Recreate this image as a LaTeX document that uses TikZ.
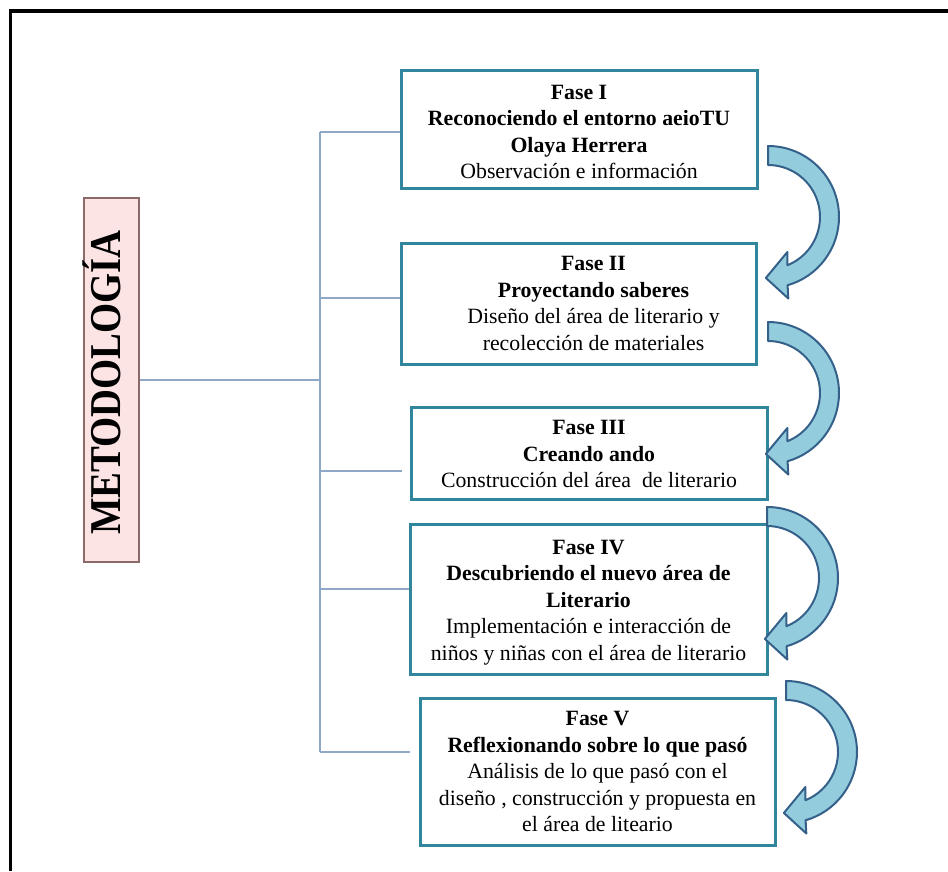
\documentclass[tikz,border=0pt]{standalone}
\usepackage{fontspec}
\setmainfont{Liberation Serif}
\definecolor{tealb}{HTML}{31859C}
\definecolor{trunkc}{HTML}{8FA8C8}
\definecolor{pinkf}{HTML}{FCE4E4}
\definecolor{pinkd}{HTML}{8C6A6A}
\definecolor{arrf}{HTML}{93CDDD}
\definecolor{arrd}{HTML}{35608A}
\tikzset{
  phase/.style={draw=tealb,line width=3pt,inner sep=0pt,fill=white},
  txt/.style={align=center,font=\fontsize{21.8}{26.5}\selectfont,inner sep=0pt},
  link/.style={draw=trunkc,line width=1.4pt},
  arrbody/.style={fill=arrf,draw=arrd,line width=2pt,line join=round},
  curvarrow/.pic={
    \draw[arrbody] (90:71) arc[start angle=90,end angle=-74,radius=71]
      -- (-76:84) -- (-92:61) -- (-61:40) -- (-68:52)
      arc[start angle=-68,end angle=90,radius=52] -- cycle;
  }
}
\begin{document}
\begin{tikzpicture}[x=1pt,y=1pt]
\useasboundingbox (0,0) rectangle (948,871);
% outer frame
\draw[line width=3.4pt] (10.7,0) -- (10.7,860) -- (948,860);

% Metodologia box
\node[draw=pinkd,fill=pinkf,line width=1.2pt,minimum width=55pt,minimum height=364pt,inner sep=0pt] (met) at (111.5,491) {};
\node[rotate=90,anchor=base,inner sep=0pt,font=\fontsize{44}{44}\selectfont\bfseries] (mettxt) at (120,488.5) {\scalebox{0.88}[1]{METODOLOGÍA}};

% phase boxes
\node[phase,minimum width=356pt,minimum height=118pt] (f1) at (579,741) {};
\node[phase,minimum width=355pt,minimum height=121pt] (f2) at (578.5,566.5) {};
\node[phase,minimum width=356pt,minimum height=92pt] (f3) at (589,417) {};
\node[phase,minimum width=357pt,minimum height=149pt] (f4) at (588.5,271.5) {};
\node[phase,minimum width=355pt,minimum height=147pt] (f5) at (597.5,99.5) {};

\node[txt] (t1) at ([yshift=-2pt]f1.center) {\textbf{Fase I}\\\textbf{Reconociendo el entorno aeioTU}\\\textbf{Olaya Herrera}\\Observación e información};
\node[txt] (t2) at ([xshift=15pt,yshift=1pt]f2.center) {\textbf{Fase II}\\\textbf{Proyectando saberes}\\Diseño del área de literario y\\recolección de materiales};
\node[txt] (t3) at (f3.center) {\textbf{Fase III}\\\textbf{Creando ando}\\Construcción del área \ de literario};
\node[txt] (t4) at ([yshift=-3pt]f4.center) {\textbf{Fase IV}\\\textbf{Descubriendo el nuevo área de}\\\textbf{Literario}\\Implementación e interacción de\\niños y niñas con el área de literario};
\node[txt] (t5) at (f5.center) {\textbf{Fase V}\\\textbf{Reflexionando sobre lo que pasó}\\Análisis de lo que pasó con el\\diseño , construcción y propuesta en\\el área de liteario};

% connectors
\coordinate (j0) at (320,491);
\coordinate (jt) at (320,739);
\coordinate (j2) at (320,573);
\coordinate (j3) at (320,400);
\coordinate (j4) at (320,282);
\coordinate (jb) at (320,119);
\coordinate (e3) at (402,400);
\coordinate (e5) at (410,119);
\draw[link] (met.east) -- (j0);
\draw[link] (jt) -- (jb);
\draw[link] (jt) -- (jt -| f1.west);
\draw[link] (j2) -- (j2 -| f2.west);
\draw[link] (j3) -- (e3);
\draw[link] (j4) -- (j4 -| f4.west);
\draw[link] (jb) -- (e5);

% curved arrows
\pic (a1) at (768,654) {curvarrow};
\pic (a2) at (768,478) {curvarrow};
\pic (a3) at (767,293) {curvarrow};
\pic (a4) at (786,119) {curvarrow};
\end{tikzpicture}
\end{document}
